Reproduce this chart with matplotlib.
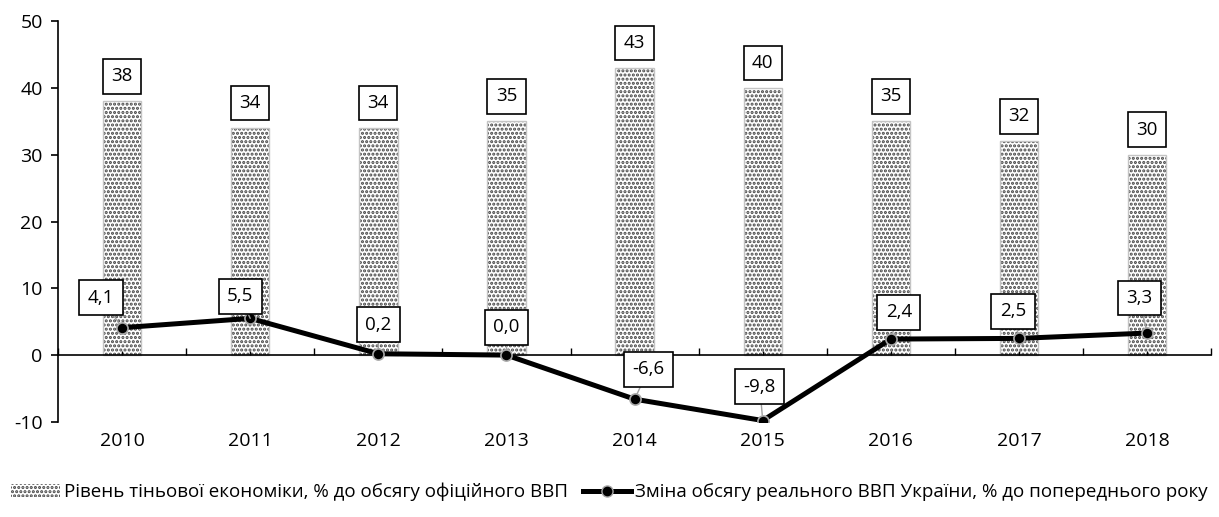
import matplotlib.pyplot as plt
import numpy as np
from matplotlib.patches import Patch
from matplotlib.lines import Line2D

plt.rcParams['font.family'] = ['Open Sans', 'DejaVu Sans']
plt.rcParams['hatch.linewidth'] = 1.5
plt.rcParams['axes.unicode_minus'] = False

years = ['2010', '2011', '2012', '2013', '2014', '2015', '2016', '2017', '2018']
shadow = [38, 34, 34, 35, 43, 40, 35, 32, 30]
gdp = [4.1, 5.5, 0.2, 0.0, -6.6, -9.8, 2.4, 2.5, 3.3]
shadow_name = 'Рівень тіньової економіки, % до обсягу офіційного ВВП'
gdp_name = 'Зміна обсягу реального ВВП України, % до попереднього року'

# label box offsets for the line, in pixels (dx, dy up)
gdp_offsets = [(-21, 30), (-10, 22), (0, 29), (0, 28), (14, 30),
               (-3, 34), (8, 27), (-6, 27), (-8, 35)]

fig = plt.figure(figsize=(12.19, 5.17), dpi=100)
ax = fig.add_axes([0.0476, 0.184, 0.946, 0.775])

x = np.arange(len(years))
# dotted fill, then a light outline on top
ax.bar(x, shadow, width=0.3, color='white', edgecolor='#454545',
       hatch='....', linewidth=0, zorder=1)
ax.bar(x, shadow, width=0.3, fill=False, edgecolor='#c4c4c4',
       linewidth=1.0, zorder=1)

ax.plot(x, gdp, color='black', lw=3.6, zorder=3,
        marker='o', markersize=8, markerfacecolor='black',
        markeredgecolor='#a8a8a8', markeredgewidth=1.2)

box = dict(boxstyle='square,pad=0.45', facecolor='white', edgecolor='black', lw=1.2)
for xi, v in zip(x, shadow):
    ax.annotate(str(v), (xi, v), xytext=(0, 25 * 0.72), textcoords='offset points',
                ha='center', va='center', fontsize=13.5, bbox=box, zorder=5)

for xi, v, (dx, dy) in zip(x, gdp, gdp_offsets):
    ax.annotate(f'{v:.1f}'.replace('.', ','), (xi, v),
                xytext=(dx * 0.72, dy * 0.72), textcoords='offset points',
                ha='center', va='center', fontsize=13.5, bbox=box, zorder=5,
                arrowprops=dict(arrowstyle='-', color='#a0a0a0', lw=1,
                                shrinkA=0, shrinkB=4))

ax.set_xlim(-0.5, len(years) - 0.5)
ax.set_ylim(-10, 50)
ax.set_yticks(range(-10, 51, 10))
ax.tick_params(axis='y', direction='out', length=5, width=1.2, labelsize=14, pad=6)

for s in ['top', 'right']:
    ax.spines[s].set_visible(False)
ax.spines['left'].set_linewidth(1.2)
ax.spines['bottom'].set_position(('data', 0))
ax.spines['bottom'].set_linewidth(1.2)
ax.set_xticks(x)
ax.set_xticklabels([])
ax.set_xticks(np.arange(len(years) + 1) - 0.5, minor=True)
ax.tick_params(axis='x', which='major', direction='in', length=3, width=1)
ax.tick_params(axis='x', which='minor', direction='in', length=5, width=1)

sec = ax.secondary_xaxis(0)
sec.set_xticks(x)
sec.set_xticklabels(years)
sec.tick_params(length=0, labelsize=14, pad=7)
sec.spines['bottom'].set_visible(False)

handles = [Patch(facecolor='white', edgecolor='#454545', hatch='....', lw=0),
           Line2D([0], [0], color='black', lw=3.6, marker='o', markersize=8,
                  markerfacecolor='black', markeredgecolor='#a8a8a8')]
fig.legend(handles, [shadow_name, gdp_name], loc='center', bbox_to_anchor=(0.5, 0.048),
           ncol=2, frameon=False, fontsize=13.5, handlelength=2.6, columnspacing=0.8,
           handletextpad=0.2, borderaxespad=0, borderpad=0)

fig.savefig('out.png', dpi=100)
